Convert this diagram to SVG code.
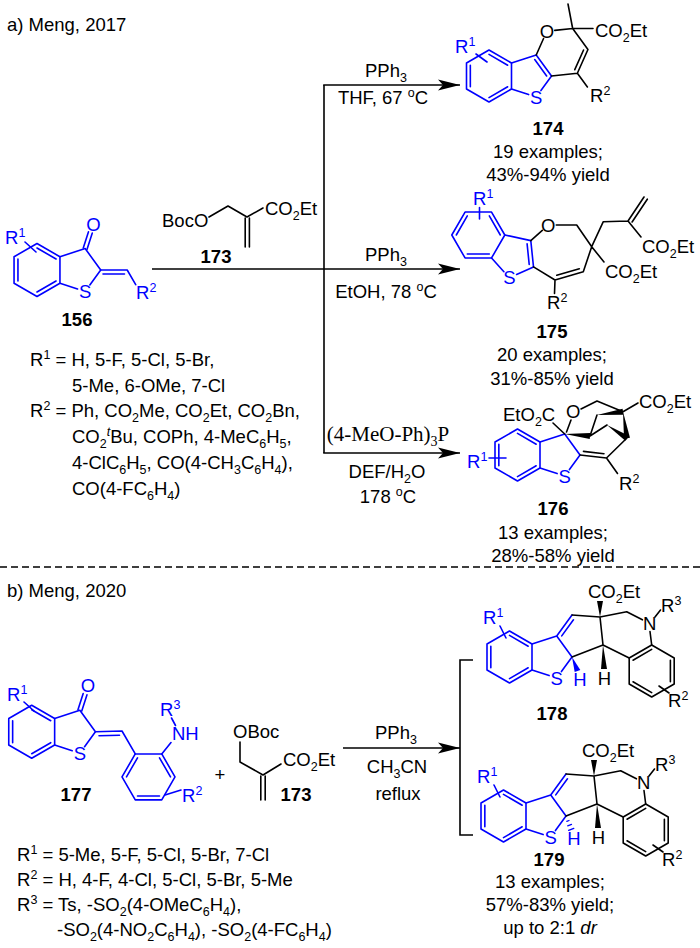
<svg xmlns="http://www.w3.org/2000/svg" width="700" height="948" viewBox="0 0 700 948" xml:space="preserve">
<style>
text{font-family:"Liberation Sans",Arial,sans-serif;font-size:18.5px;fill:#000}
.c{text-anchor:middle}
.bl{fill:#00f}
.lb{font-weight:bold}
.s{font-size:12.5px}
.i{font-style:italic}
.sf{font-family:"Liberation Serif","Times New Roman",serif;font-size:21px}
.k{stroke:#000;stroke-width:1.6;fill:none;stroke-linecap:round;stroke-linejoin:round}
.u{stroke:#00f;stroke-width:1.6;fill:none;stroke-linecap:round;stroke-linejoin:round}
.wk{fill:#000}
.wu{fill:#00f}
.ln{stroke:#000;stroke-width:1.6;fill:none}
</style>
<defs>
<marker id="ah" markerUnits="userSpaceOnUse" viewBox="0 0 22 12" refX="22" refY="6" markerWidth="22" markerHeight="12" orient="auto">
<path d="M0,0.5 L22,6 L0,11.5 L5,6 Z" fill="#000"/>
</marker>
</defs>
<rect width="700" height="948" fill="#fff"/>

<g id="head-a"><text x="7" y="31">a) Meng, 2017</text></g>

<g id="c156">
<polygon class="u" points="37,243.5 59.95,256.75 59.95,283.25 37,296.5 14.05,283.25 14.05,256.75"/>
<path class="u" d="M37,248 L56.05,259 M56.05,281 L37,292 M17.95,281 L17.95,259"/>
<path class="u" d="M59.95,256.75 L85.15,248.56 L100.72,270 L89.85,284.97 M77.54,288.97 L59.95,283.25"/>
<path class="u" d="M87.05,249.18 L92.3,233.02 M83.25,247.94 L88.5,231.78"/>
<path class="u" d="M100.72,270 L127.2,270 L135.7,284.7 M103,274 L124.5,274 M25,242 L36,252"/>
<text class="c bl" x="93.5" y="231">O</text>
<text class="c bl" x="85.2" y="298">S</text>
<text class="bl" x="136" y="299">R<tspan class="s" dy="-7">2</tspan></text>
<text class="bl" x="5" y="244">R<tspan class="s" dy="-7">1</tspan></text>
<text class="c lb" x="77" y="326">156</text>
<text x="30" y="366">R<tspan class="s" dy="-7">1</tspan><tspan dy="7"> = H, 5-F, 5-Cl, 5-Br,</tspan></text>
<text x="72" y="392">5-Me, 6-OMe, 7-Cl</text>
<text x="30" y="417">R<tspan class="s" dy="-7">2</tspan><tspan dy="7"> = Ph, CO</tspan><tspan class="s" dy="5">2</tspan><tspan dy="-5">Me, CO</tspan><tspan class="s" dy="5">2</tspan><tspan dy="-5">Et, CO</tspan><tspan class="s" dy="5">2</tspan><tspan dy="-5">Bn,</tspan></text>
<text x="72" y="443">CO<tspan class="s" dy="5">2</tspan><tspan class="s i" dy="-12">t</tspan><tspan dy="7">Bu, COPh, 4-MeC</tspan><tspan class="s" dy="5">6</tspan><tspan dy="-5">H</tspan><tspan class="s" dy="5">5</tspan><tspan dy="-5">,</tspan></text>
<text x="72" y="469">4-ClC<tspan class="s" dy="5">6</tspan><tspan dy="-5">H</tspan><tspan class="s" dy="5">5</tspan><tspan dy="-5">, CO(4-CH</tspan><tspan class="s" dy="5">3</tspan><tspan dy="-5">C</tspan><tspan class="s" dy="5">6</tspan><tspan dy="-5">H</tspan><tspan class="s" dy="5">4</tspan><tspan dy="-5">),</tspan></text>
<text x="72" y="495">CO(4-FC<tspan class="s" dy="5">6</tspan><tspan dy="-5">H</tspan><tspan class="s" dy="5">4</tspan><tspan dy="-5">)</tspan></text>
</g>

<g id="c173a">
<path class="k" d="M209,217 L228,206 L247,217 L263,208 M245.2,218 L245.2,247 M249.4,218 L249.4,247"/>
<text x="162" y="227">BocO</text>
<text x="265" y="215">CO<tspan class="s" dy="5">2</tspan><tspan dy="-5">Et</tspan></text>
<text class="c lb" x="216" y="263">173</text>
</g>

<g id="connectors">
<path class="ln" d="M324,85 L324,453"/>
<line class="ln" x1="323.2" y1="85" x2="460" y2="85" marker-end="url(#ah)"/>
<line class="ln" x1="152" y1="269" x2="460" y2="269" marker-end="url(#ah)"/>
<line class="ln" x1="323.2" y1="453" x2="460" y2="453" marker-end="url(#ah)"/>
<line class="ln" x1="343" y1="748" x2="460" y2="748" marker-end="url(#ah)"/>
<path class="ln" d="M473,660 L460,660 L460,835 L473,835"/>
<line class="ln" x1="0" y1="567" x2="700" y2="567" stroke-dasharray="7 4"/>
</g>

<g id="cond-a">
<text class="c" x="386" y="77">PPh<tspan class="s" dy="5">3</tspan></text>
<text class="c" x="383" y="104">THF, 67 <tspan class="s" dy="-7">o</tspan><tspan dy="7">C</tspan></text>
<text class="c" x="386" y="261">PPh<tspan class="s" dy="5">3</tspan></text>
<text class="c" x="386" y="298">EtOH, 78 <tspan class="s" dy="-7">o</tspan><tspan dy="7">C</tspan></text>
<text class="c sf" x="388" y="441">(4-MeO-Ph)<tspan dy="5" style="font-size:14px">3</tspan><tspan dy="-5">P</tspan></text>
<text class="c" x="387" y="478">DEF/H<tspan class="s" dy="5">2</tspan><tspan dy="-5">O</tspan></text>
<text class="c" x="388" y="503">178 <tspan class="s" dy="-7">o</tspan><tspan dy="7">C</tspan></text>
</g>

<g id="c174">
<polygon class="u" points="489,50 511.5,63 511.5,89 489,102 466.5,89 466.5,63"/>
<path class="u" d="M489,54.42 L507.67,65.21 M507.67,86.79 L489,97.58 M470.33,86.79 L470.33,65.21"/>
<path class="u" d="M511.5,63 L536.23,54.96 L551.51,76 L540.93,90.57 M528.62,94.57 L511.5,89 M534.73,59.59 L546.64,76 M476,54 L487,62"/>
<path class="k" d="M536.23,54.96 L543.55,38.52 M554.77,30.38 L572.66,28.5 L587.95,49.53 L577.37,73.28 L551.51,76 M583.57,49.99 L574.77,69.7 M572.66,28.5 L568,4 M572.66,28.5 L593,28.5 M577.37,73.28 L587.4,87"/>
<text class="c bl" x="536.2" y="104">S</text>
<text class="bl" x="455" y="53">R<tspan class="s" dy="-7">1</tspan></text>
<text class="c" x="547" y="38">O</text>
<text x="595" y="37">CO<tspan class="s" dy="5">2</tspan><tspan dy="-5">Et</tspan></text>
<text x="590" y="102">R<tspan class="s" dy="-7">2</tspan></text>
<text class="c lb" x="548" y="135">174</text>
<text class="c" x="548" y="158">19 examples;</text>
<text class="c" x="548" y="181">43%-94% yield</text>
</g>

<g id="c175">
<polygon class="u" points="451.8,235 465.05,212.05 491.55,212.05 504.8,235 491.55,257.95 465.05,257.95"/>
<path class="u" d="M456.3,235 L467.3,215.95 M489.3,215.95 L500.3,235 M489.3,254.05 L467.3,254.05"/>
<path class="u" d="M504.8,235 L530.8,240.6 L533.5,266.9 L516.6,274.4 M503.9,271.7 L491.55,257.95 M527.1,243.9 L529.2,264.4 M479.5,207.5 L479.5,219"/>
<path class="k" d="M530.8,240.6 L542.3,230.3 M556.3,225 L576.7,225 L591.7,246.7 L583.3,271.7 L555,280 L533.5,266.9 M579.3,268.7 L556.76,275.3 M555,280 L554.5,293.5 M591.7,246.7 L603.3,221.7 L628,221 L641,237 M628,221 L644,197 M632.1,222 L647.3,199.2 M591.7,246.7 L604,262"/>
<text class="c bl" x="509.3" y="284">S</text>
<text class="bl" x="473" y="205">R<tspan class="s" dy="-7">1</tspan></text>
<text class="c" x="548.3" y="231.5">O</text>
<text x="642" y="253">CO<tspan class="s" dy="5">2</tspan><tspan dy="-5">Et</tspan></text>
<text x="605" y="278">CO<tspan class="s" dy="5">2</tspan><tspan dy="-5">Et</tspan></text>
<text x="547" y="309">R<tspan class="s" dy="-7">2</tspan></text>
<text class="c lb" x="552" y="338">175</text>
<text class="c" x="552" y="361">20 examples;</text>
<text class="c" x="552" y="385">31%-85% yield</text>
</g>

<g id="c176">
<polygon class="u" points="517.5,429 540,442 540,468 517.5,481 495,468 495,442"/>
<path class="u" d="M517.5,433.42 L536.18,444.21 M536.18,465.79 L517.5,476.58 M498.83,465.79 L498.83,444.21"/>
<path class="u" d="M540,442 L564.73,433.96 L580.01,455 L569.43,469.57 M557.12,473.57 L540,468 M489,458 L506,458"/>
<path class="k" d="M553,423 L564.73,433.96 M571,420 L566.5,432 M581,409 L597,401 L623,411.7 M623,411.7 L638,403 M590,436 L597,415 M590,436 L607,425 M580.01,455 L606.5,458 M583.45,451.36 L603.95,453.68 M606.5,458 L626.7,438.3 M606.5,458 L617.5,473.5"/>
<polygon class="wk" points="564.73,433.96 590.24,433.01 589.76,438.99"/>
<polygon class="wk" points="597,415 623.38,414.68 622.62,408.72"/>
<polygon class="wk" points="623,411.7 629.97,437.85 624.03,438.75"/>
<polygon class="wk" points="607,425 625.34,440.8 628.66,435.8"/>
<text class="c bl" x="564.7" y="482.5">S</text>
<text class="bl" x="467" y="468">R<tspan class="s" dy="-7">1</tspan></text>
<text x="503" y="421">EtO<tspan class="s" dy="5">2</tspan><tspan dy="-5">C</tspan></text>
<text class="c" x="573.3" y="418">O</text>
<text x="639" y="408">CO<tspan class="s" dy="5">2</tspan><tspan dy="-5">Et</tspan></text>
<text x="619" y="490">R<tspan class="s" dy="-7">2</tspan></text>
<text class="c lb" x="553" y="515">176</text>
<text class="c" x="553" y="539">13 examples;</text>
<text class="c" x="553" y="562">28%-58% yield</text>
</g>

<g id="head-b"><text x="7" y="597">b) Meng, 2020</text></g>

<g id="c177">
<polygon class="u" points="31.7,705.2 54.65,718.45 54.65,744.95 31.7,758.2 8.75,744.95 8.75,718.45"/>
<path class="u" d="M31.7,709.7 L50.75,720.7 M50.75,742.7 L31.7,753.7 M12.65,742.7 L12.65,720.7"/>
<path class="u" d="M54.65,718.45 L79.85,710.26 L95.42,731.7 L84.55,746.67 M72.24,750.67 L54.65,744.95"/>
<path class="u" d="M81.75,710.88 L87,694.72 M77.95,709.64 L83.2,693.48"/>
<path class="u" d="M95.42,731.7 L122,731 L135.25,753.95 M99,735.7 L119.5,735.2"/>
<polygon class="u" points="135.25,753.95 161.75,753.95 175,776.9 161.75,799.85 135.25,799.85 122,776.9"/>
<path class="u" d="M159.5,757.85 L170.5,776.9 M159.5,795.95 L137.5,795.95 M126.5,776.9 L137.5,757.85"/>
<path class="u" d="M161.75,753.95 L171,742.5 M171.5,718 L175.5,725.5 M165,795 L181,790 M24,702 L34,711"/>
<text class="c bl" x="88" y="692">O</text>
<text class="c bl" x="79.85" y="759.6">S</text>
<text class="bl" x="172" y="740">NH</text>
<text class="bl" x="160" y="716">R<tspan class="s" dy="-7">3</tspan></text>
<text class="bl" x="182" y="802">R<tspan class="s" dy="-7">2</tspan></text>
<text class="bl" x="7" y="701">R<tspan class="s" dy="-7">1</tspan></text>
<text class="c lb" x="76" y="801">177</text>
<text x="17" y="861">R<tspan class="s" dy="-7">1</tspan><tspan dy="7"> = 5-Me, 5-F, 5-Cl, 5-Br, 7-Cl</tspan></text>
<text x="17" y="886">R<tspan class="s" dy="-7">2</tspan><tspan dy="7"> = H, 4-F, 4-Cl, 5-Cl, 5-Br, 5-Me</tspan></text>
<text x="17" y="911">R<tspan class="s" dy="-7">3</tspan><tspan dy="7"> = Ts, -SO</tspan><tspan class="s" dy="5">2</tspan><tspan dy="-5">(4-OMeC</tspan><tspan class="s" dy="5">6</tspan><tspan dy="-5">H</tspan><tspan class="s" dy="5">4</tspan><tspan dy="-5">),</tspan></text>
<text x="57" y="936">-SO<tspan class="s" dy="5">2</tspan><tspan dy="-5">(4-NO</tspan><tspan class="s" dy="5">2</tspan><tspan dy="-5">C</tspan><tspan class="s" dy="5">6</tspan><tspan dy="-5">H</tspan><tspan class="s" dy="5">4</tspan><tspan dy="-5">), -SO</tspan><tspan class="s" dy="5">2</tspan><tspan dy="-5">(4-FC</tspan><tspan class="s" dy="5">6</tspan><tspan dy="-5">H</tspan><tspan class="s" dy="5">4</tspan><tspan dy="-5">)</tspan></text>
</g>

<g id="plus"><text class="c" x="220" y="781">+</text></g>

<g id="c173b">
<path class="k" d="M240,742 L240,762 L263,775 L281,764 M260.8,776 L260.8,800 M265.2,776 L265.2,800"/>
<text x="233" y="738">OBoc</text>
<text x="283" y="766">CO<tspan class="s" dy="5">2</tspan><tspan dy="-5">Et</tspan></text>
<text class="c lb" x="296" y="801">173</text>
</g>

<g id="cond-b">
<text class="c" x="396" y="739">PPh<tspan class="s" dy="5">3</tspan></text>
<text class="c" x="397" y="773">CH<tspan class="s" dy="5">3</tspan><tspan dy="-5">CN</tspan></text>
<text class="c" x="398" y="800">reflux</text>
</g>

<g id="c178">
<polygon class="u" points="509.5,631 532,644 532,670 509.5,683 487,670 487,644"/>
<path class="u" d="M509.5,635.42 L528.18,646.21 M528.18,667.79 L509.5,678.58 M490.83,667.79 L490.83,646.21"/>
<path class="u" d="M532,644 L556.73,635.96 L572,657 L561.43,671.57 M549.12,675.57 L532,670 M556.73,635.96 L572,615 M561.73,635.9 L573.46,619.78 M500,626 L506,638"/>
<path class="k" d="M572,615 L600,617 L603,645 L572,657 M603,645 L629.2,658 M600,617 L626.7,611.7 L642.4,619.8 M655,617 L660.5,610 M650,631.5 L651.7,645 M659,686 L669,693"/>
<polygon class="k" points="651.7,645 674.2,658 674.2,684 651.7,697 629.2,684 629.2,658"/>
<path class="k" d="M633.02,660.21 L651.7,649.42 M670.38,660.21 L670.38,681.79 M651.7,692.58 L633.02,681.79"/>
<polygon class="wk" points="600,617 597,601 603,601"/>
<polygon class="wk" points="603,645 601,669 607,669"/>
<polygon class="wu" points="572,657 580.3,669.9 574.7,672.1"/>
<text class="c bl" x="556.7" y="684.5">S</text>
<text class="c bl" x="580" y="686">H</text>
<text class="c" x="604.5" y="685">H</text>
<text class="bl" x="483" y="624">R<tspan class="s" dy="-7">1</tspan></text>
<text x="588" y="598">CO<tspan class="s" dy="5">2</tspan><tspan dy="-5">Et</tspan></text>
<text x="643" y="630">N</text>
<text x="661" y="612">R<tspan class="s" dy="-7">3</tspan></text>
<text x="668" y="707">R<tspan class="s" dy="-7">2</tspan></text>
<text class="c lb" x="552" y="720">178</text>
</g>

<g id="c179">
<g transform="translate(-6,159)">
<polygon class="u" points="509.5,631 532,644 532,670 509.5,683 487,670 487,644"/>
<path class="u" d="M509.5,635.42 L528.18,646.21 M528.18,667.79 L509.5,678.58 M490.83,667.79 L490.83,646.21"/>
<path class="u" d="M532,644 L556.73,635.96 L572,657 L561.43,671.57 M549.12,675.57 L532,670 M556.73,635.96 L572,615 M561.73,635.9 L573.46,619.78 M500,626 L506,638"/>
<path class="k" d="M572,615 L600,617 L603,645 L572,657 M603,645 L629.2,658 M600,617 L626.7,611.7 L642.4,619.8 M655,617 L660.5,610 M650,631.5 L651.7,645 M659,686 L669,693"/>
<polygon class="k" points="651.7,645 674.2,658 674.2,684 651.7,697 629.2,684 629.2,658"/>
<path class="k" d="M633.02,660.21 L651.7,649.42 M670.38,660.21 L670.38,681.79 M651.7,692.58 L633.02,681.79"/>
<polygon class="wk" points="600,617 597,601 603,601"/>
<polygon class="wk" points="603,645 601,669 607,669"/>
<path class="u" style="stroke-width:1.3" d="M572.8,662.3 L575,661.5 M573.7,666.8 L577.5,665.4 M574.6,671.3 L579.8,669.3"/>
<text class="c bl" x="556.7" y="684.5">S</text>
<text class="c bl" x="580" y="686">H</text>
<text class="c" x="604.5" y="685">H</text>
<text class="bl" x="483" y="624">R<tspan class="s" dy="-7">1</tspan></text>
<text x="588" y="598">CO<tspan class="s" dy="5">2</tspan><tspan dy="-5">Et</tspan></text>
<text x="643" y="630">N</text>
<text x="661" y="612">R<tspan class="s" dy="-7">3</tspan></text>
<text x="668" y="707">R<tspan class="s" dy="-7">2</tspan></text>
</g>
<text class="c lb" x="549" y="866">179</text>
<text class="c" x="550" y="888">13 examples;</text>
<text class="c" x="550" y="911">57%-83% yield;</text>
<text class="c" x="550" y="934">up to 2:1 <tspan class="i">dr</tspan></text>
</g>
</svg>
